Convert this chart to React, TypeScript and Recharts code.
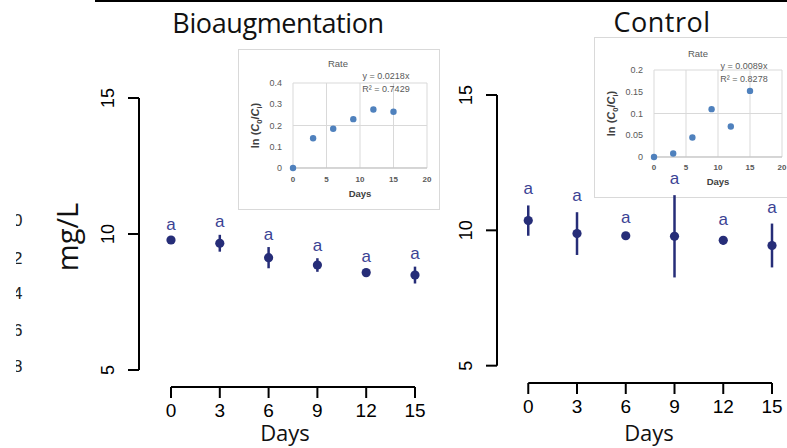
import React from "react";
import {
  ScatterChart,
  Scatter,
  XAxis,
  YAxis,
  ErrorBar,
  ReferenceLine,
  CartesianGrid,
  Label,
} from "recharts";

// main panels: dissolved value (mg/L) by sampling day
const days = [0, 3, 6, 9, 12, 15];
const bioMean = [9.78, 9.66, 9.13, 8.86, 8.58, 8.49];
const bioErr = [0.1, 0.31, 0.39, 0.25, 0.1, 0.31];
const ctrlMean = [10.36, 9.88, 9.8, 9.78, 9.63, 9.44];
const ctrlErr = [0.56, 0.79, 0.05, 1.52, 0.15, 0.81];
const bioLetters = ["a", "a", "a", "a", "a", "a"];
const ctrlLetters = ["a", "a", "a", "a", "a", "a"];
const mainYTicks = [5, 10, 15];

// inset "Rate" plots: ln(C0/Ci) vs days
const bioRate = [0, 0.14, 0.185, 0.23, 0.275, 0.265];
const ctrlRate = [0, 0.008, 0.045, 0.11, 0.07, 0.152];
const insetXTicks = [0, 5, 10, 15, 20];
const bioRateTicks = [0, 0.1, 0.2, 0.3, 0.4];
const ctrlRateTicks = [0, 0.05, 0.1, 0.15, 0.2];
const bioFit = ["y = 0.0218x", "R² = 0.7429"];
const ctrlFit = ["y = 0.0089x", "R² = 0.8278"];

// cropped labels at the far left edge of the figure
const edgeDigits = ["0", "2", "4", "6", "8"];
const edgeY = [220, 258, 293, 330, 366];

const NAVY = "#262d78";
const LETTER = "#3b4394";
const DOT = "#4f81bd";
const SANS = "'Liberation Sans', Arial, sans-serif";
const TITLE = "'Open Sans', sans-serif";

const rows = (mean: number[], err: number[], letters: string[]) =>
  days.map((d, i) => ({ day: d, y: mean[i], err: err[i], letter: letters[i] }));

const tops = (mean: number[], err: number[], letters: string[]) =>
  days.map((d, i) => ({ day: d, y: mean[i] + err[i], letter: letters[i] }));

const RotTick = (props: any) => {
  const { x, y, payload } = props;
  const bx = x - 12;
  return (
    <text
      x={bx}
      y={y}
      transform={`rotate(-90, ${bx}, ${y})`}
      textAnchor="middle"
      fontSize={18}
      fontFamily={SANS}
      fill="#000"
    >
      {payload.value}
    </text>
  );
};

const Dot = (props: any) => <circle cx={props.cx} cy={props.cy} r={4.6} fill={NAVY} />;

const letterShape = (off: number) => (props: any) => (
  <text
    x={props.cx}
    y={props.cy - off}
    textAnchor="middle"
    fontSize={17}
    fontFamily={SANS}
    fill={LETTER}
  >
    {props.payload.letter}
  </text>
);

type PanelProps = {
  left: number;
  width: number;
  top: number;
  bottom: number;
  yLeftMargin: number;
  yWidth: number;
  xDomain: [number, number];
  yDomain: [number, number];
  right: number;
  mean: number[];
  err: number[];
  letters: string[];
  letterOff: number;
};

function MainPanel(p: PanelProps) {
  return (
    <div style={{ position: "absolute", left: p.left, top: 0 }}>
      <ScatterChart
        width={p.width}
        height={448}
        margin={{ top: p.top, right: p.right, bottom: 0, left: p.yLeftMargin }}
      >
        <XAxis
          type="number"
          dataKey="day"
          domain={p.xDomain}
          allowDataOverflow
          ticks={days}
          height={448 - p.bottom}
          axisLine={false}
          tickLine={{ stroke: "#000", strokeWidth: 2 }}
          tickSize={11}
          tickMargin={6}
          tick={{ fontSize: 19, fontFamily: SANS, fill: "#000" }}
        />
        <YAxis
          type="number"
          dataKey="y"
          domain={p.yDomain}
          allowDataOverflow
          ticks={mainYTicks}
          width={p.yWidth}
          axisLine={false}
          tickLine={{ stroke: "#000", strokeWidth: 2 }}
          tickSize={11}
          tickMargin={2}
          tick={<RotTick />}
        />
        <ReferenceLine
          segment={[
            { x: p.xDomain[0], y: 5 },
            { x: p.xDomain[0], y: 15 },
          ]}
          stroke="#000"
          strokeWidth={2}
          ifOverflow="visible"
        />
        <ReferenceLine
          segment={[
            { x: 0, y: p.yDomain[0] },
            { x: 15, y: p.yDomain[0] },
          ]}
          stroke="#000"
          strokeWidth={2}
          ifOverflow="visible"
        />
        <Scatter data={rows(p.mean, p.err, p.letters)} shape={<Dot />} isAnimationActive={false}>
          <ErrorBar dataKey="err" direction="y" width={0} stroke={NAVY} strokeWidth={2.5} />
        </Scatter>
        <Scatter
          data={tops(p.mean, p.err, p.letters)}
          shape={letterShape(p.letterOff)}
          isAnimationActive={false}
        />
      </ScatterChart>
    </div>
  );
}

type InsetProps = {
  left: number;
  top: number;
  yWidth: number;
  plotTop: number;
  xHeight: number;
  right: number;
  rate: number[];
  yTicks: number[];
  fit: string[];
  rateX: number;
  rateY: number;
  fitX: number;
  fitY: number;
  xTickGap: number;
};

const lnLabel = (props: any) => {
  const vb = props.viewBox;
  const cx = vb.x + 20;
  const cy = vb.y + vb.height / 2;
  return (
    <text
      x={cx}
      y={cy}
      transform={`rotate(-90, ${cx}, ${cy})`}
      textAnchor="middle"
      fontSize={11}
      fontWeight="bold"
      fontFamily={SANS}
      fill="#404040"
    >
      ln (<tspan fontStyle="italic">C</tspan>
      <tspan fontSize={7.5} dy={2.5}>0</tspan>
      <tspan dy={-2.5}>/</tspan>
      <tspan fontStyle="italic">C</tspan>
      <tspan fontSize={7.5} dy={2.5}>i</tspan>
      <tspan dy={-2.5}>)</tspan>
    </text>
  );
};

function Inset(p: InsetProps) {
  const data = days.map((d, i) => ({ day: d, v: p.rate[i] }));
  const small: React.CSSProperties = {
    position: "absolute",
    fontFamily: SANS,
    fontSize: 9,
    lineHeight: "10px",
    color: "#595959",
    whiteSpace: "nowrap",
  };
  return (
    <div
      style={{
        position: "absolute",
        left: p.left,
        top: p.top,
        width: 200,
        height: 159,
        border: "1px solid #d9d9d9",
        background: "#fff",
      }}
    >
      <ScatterChart
        width={200}
        height={159}
        margin={{ top: p.plotTop, right: p.right, bottom: 0, left: 0 }}
      >
        <CartesianGrid stroke="#d9d9d9" />
        <XAxis
          type="number"
          dataKey="day"
          domain={[0, 20]}
          ticks={insetXTicks}
          height={p.xHeight}
          axisLine={{ stroke: "#bfbfbf" }}
          tickLine={false}
          tickSize={0}
          tickMargin={p.xTickGap}
          tick={{ fontSize: 8, fontWeight: "bold", fontFamily: SANS, fill: "#595959" }}
        >
          <Label
            value="Days"
            position="insideBottom"
            offset={12}
            style={{ fontSize: 9.5, fontWeight: "bold", fontFamily: SANS, fill: "#404040" }}
          />
        </XAxis>
        <YAxis
          type="number"
          dataKey="v"
          domain={[0, p.yTicks[p.yTicks.length - 1]]}
          ticks={p.yTicks}
          width={p.yWidth}
          axisLine={false}
          tickLine={false}
          tickSize={0}
          tickMargin={11}
          tick={{ fontSize: 9, fontFamily: SANS, fill: "#595959" }}
        >
          <Label content={lnLabel} />
        </YAxis>
        <Scatter
          data={data}
          isAnimationActive={false}
          shape={(s: any) => <circle cx={s.cx} cy={s.cy} r={3.2} fill={DOT} />}
        />
      </ScatterChart>
      <div style={{ ...small, left: p.rateX - 30, width: 60, textAlign: "center", top: p.rateY - 5, fontSize: 9.5 }}>
        Rate
      </div>
      {p.fit.map((t, i) => (
        <div
          key={t}
          style={{ ...small, left: p.fitX - 40, width: 80, textAlign: "center", top: p.fitY + i * 12.5 - 5 }}
        >
          {t}
        </div>
      ))}
    </div>
  );
}

export default function App() {
  return (
    <div
      style={{
        position: "fixed",
        left: 0,
        top: 0,
        width: 787,
        height: 448,
        background: "#fff",
        overflow: "hidden",
      }}
    >
      <div style={{ position: "absolute", left: 95, top: 0, width: 692, height: 2, background: "#000" }} />

      <div style={{ position: "absolute", left: 16, top: 200, width: 7, height: 180, overflow: "hidden" }}>
        {edgeDigits.map((d, i) => (
          <div
            key={d}
            style={{
              position: "absolute",
              left: -3,
              top: edgeY[i] - 200 - 8.3,
              fontFamily: SANS,
              fontSize: 17,
              lineHeight: "17px",
              color: "#222",
            }}
          >
            {d}
          </div>
        ))}
      </div>

      <Inset
        left={238}
        top={49}
        yWidth={54}
        plotTop={33}
        xHeight={41}
        right={12}
        rate={bioRate}
        yTicks={bioRateTicks}
        fit={bioFit}
        rateX={99}
        rateY={14}
        fitX={147}
        fitY={26}
        xTickGap={8}
      />
      <Inset
        left={594}
        top={37}
        yWidth={59}
        plotTop={32}
        xHeight={40}
        right={13}
        rate={ctrlRate}
        yTicks={ctrlRateTicks}
        fit={ctrlFit}
        rateX={103}
        rateY={16}
        fitX={149}
        fitY={28}
        xTickGap={7}
      />

      <MainPanel
        left={0}
        width={440}
        top={98}
        bottom={387}
        yLeftMargin={39}
        yWidth={100}
        xDomain={[-1.967, 15.984]}
        yDomain={[4.375, 15]}
        right={9}
        mean={bioMean}
        err={bioErr}
        letters={bioLetters}
        letterOff={7.5}
      />
      <MainPanel
        left={400}
        width={387}
        top={95}
        bottom={383}
        yLeftMargin={27}
        yWidth={70}
        xDomain={[-1.924, 15.8]}
        yDomain={[4.36, 15]}
        right={2}
        mean={ctrlMean}
        err={ctrlErr}
        letters={ctrlLetters}
        letterOff={11}
      />

      <div
        style={{
          position: "absolute",
          left: 128,
          top: 9,
          width: 300,
          textAlign: "center",
          fontFamily: TITLE,
          fontSize: 27,
          lineHeight: "27px",
          letterSpacing: -0.4,
          color: "#111",
        }}
      >
        Bioaugmentation
      </div>
      <div
        style={{
          position: "absolute",
          left: 562,
          top: 8,
          width: 200,
          textAlign: "center",
          fontFamily: TITLE,
          fontSize: 27,
          lineHeight: "27px",
          letterSpacing: 0.5,
          color: "#111",
        }}
      >
        Control
      </div>
      <div
        style={{
          position: "absolute",
          left: 66,
          top: 237,
          transform: "translate(-50%, -50%) rotate(-90deg)",
          fontFamily: TITLE,
          fontSize: 29,
          lineHeight: "29px",
          color: "#111",
          whiteSpace: "nowrap",
        }}
      >
        mg/L
      </div>
      {[285, 649].map((cx) => (
        <div
          key={cx}
          style={{
            position: "absolute",
            left: cx - 50,
            top: 421,
            width: 100,
            textAlign: "center",
            fontFamily: TITLE,
            fontSize: 22,
            lineHeight: "22px",
            color: "#111",
          }}
        >
          Days
        </div>
      ))}
    </div>
  );
}
